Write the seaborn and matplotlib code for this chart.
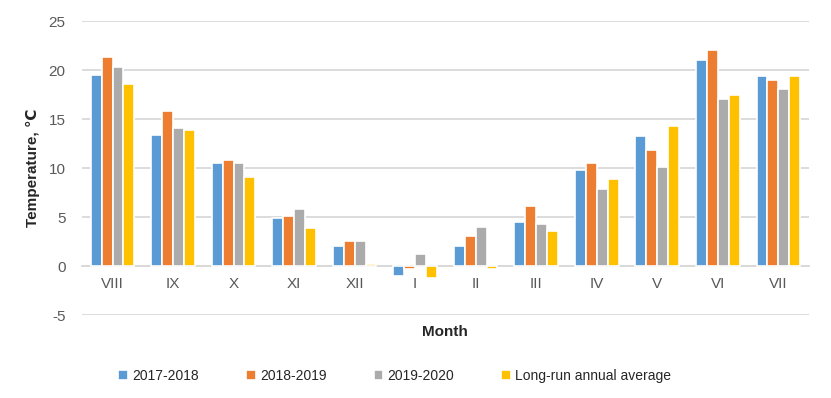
import matplotlib
matplotlib.use('Agg')
from matplotlib import pyplot as plt
import pandas as pd
import seaborn as sns

months = ['VIII', 'IX', 'X', 'XI', 'XII', 'I', 'II', 'III', 'IV', 'V', 'VI', 'VII']
t_2017_2018 = [19.55, 13.42, 10.49, 4.94, 2.11, -0.95, 2.01, 4.53, 9.84, 13.25, 21.02, 19.38]
t_2018_2019 = [21.29, 15.80, 10.87, 5.14, 2.62, -0.30, 3.03, 6.10, 10.49, 11.89, 22.04, 18.97]
t_2019_2020 = [20.30, 14.13, 10.49, 5.79, 2.62, 1.29, 4.02, 4.33, 7.90, 10.12, 17.03, 18.12]
t_longrun = [18.56, 13.86, 9.13, 3.92, 0.20, -1.23, -0.30, 3.54, 8.86, 14.27, 17.44, 19.35]
series = ['2017-2018', '2018-2019', '2019-2020', 'Long-run annual average']
colors = ['#5B9BD5', '#ED7D31', '#ABABAB', '#FFC000']

df = pd.concat([
    pd.DataFrame({'Month': months, 'Temperature': vals, 'Season': name})
    for name, vals in zip(series, [t_2017_2018, t_2018_2019, t_2019_2020, t_longrun])
])

sns.set_style('white')
plt.rcParams['font.family'] = ['Liberation Sans', 'DejaVu Sans']
plt.rcParams['axes.unicode_minus'] = False

f, ax = plt.subplots(figsize=(8.31, 3.98), dpi=100)
f.subplots_adjust(left=0.099, right=0.973, top=0.947, bottom=0.208)

sns.barplot(x='Month', y='Temperature', hue='Season', data=df, order=months,
            hue_order=series, palette=colors, width=0.72, saturation=1,
            edgecolor='white', linewidth=1.2, ax=ax)

ax.set_ylim(-5, 25)
ax.set_yticks([-5, 0, 5, 10, 15, 20, 25])
ax.set_xlim(-0.5, 11.5)
ax.yaxis.grid(True, color='#D9D9D9', linewidth=1.3)
ax.set_axisbelow(True)
for s in ['top', 'right', 'left']:
    ax.spines[s].set_visible(False)
ax.spines['bottom'].set_position(('data', 0))
ax.spines['bottom'].set_color('#D9D9D9')
ax.spines['bottom'].set_linewidth(1.3)
ax.spines['bottom'].set_zorder(0.5)
ax.tick_params(axis='both', length=0, labelsize=11, labelcolor='#595959')
ax.tick_params(axis='x', pad=8)
ax.tick_params(axis='y', pad=12)

ax.set_ylabel('Temperature, ℃', fontsize=11, fontweight='bold', labelpad=6)
ax.set_xlabel('')
f.text(0.536, 0.165, 'Month', ha='center', va='center', fontsize=11, fontweight='bold')

ax.legend(loc='center', bbox_to_anchor=(0.475, 0.055), bbox_transform=f.transFigure,
          ncol=4, frameon=False, fontsize=10, handlelength=0.7, handleheight=0.7,
          handletextpad=0.3, columnspacing=3.4)

plt.savefig('out.png', dpi=100)
